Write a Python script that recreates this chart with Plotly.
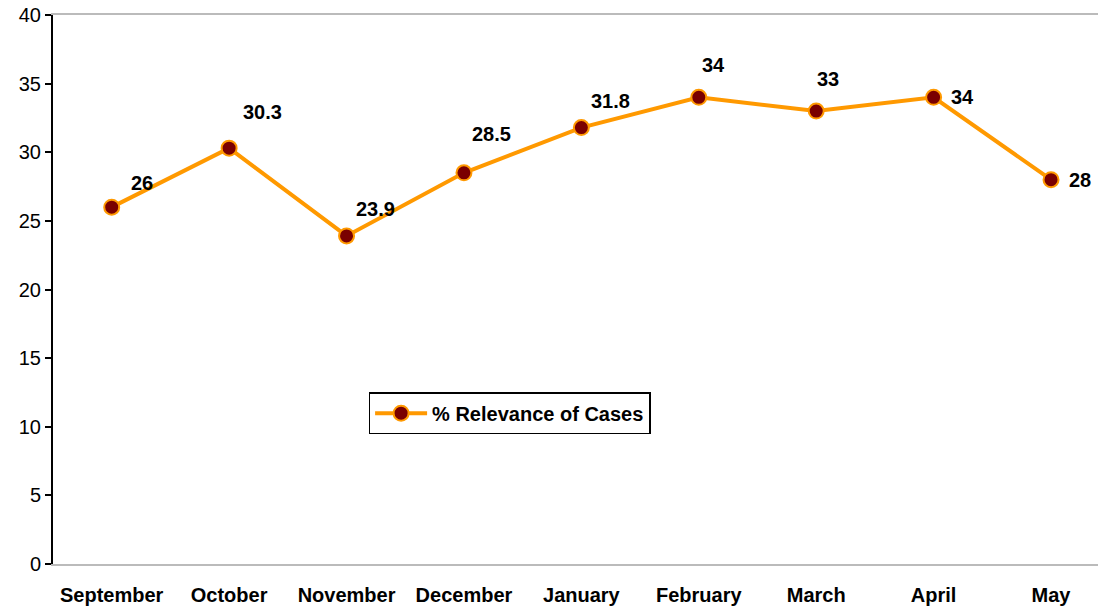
import plotly.graph_objects as go

months = ["September", "October", "November", "December", "January",
          "February", "March", "April", "May"]
values = [26, 30.3, 23.9, 28.5, 31.8, 34, 33, 34, 28]
value_labels = ["26", "30.3", "23.9", "28.5", "31.8", "34", "33", "34", "28"]
series_name = "% Relevance of Cases"
y_ticks = [0, 5, 10, 15, 20, 25, 30, 35, 40]

# label offsets (pixels) relative to each point
label_dx = [30, 33, 29, 28, 29, 15, 12, 29, 29]
label_dy = [24, 36, 27, 39, 27, 32, 32, 0, 0]

FONT = "Liberation Sans, Arial"

fig = go.Figure()
fig.add_trace(go.Scatter(
    x=months, y=values, mode="lines+markers", name="<b>" + series_name + "</b>",
    line=dict(color="#FF9900", width=4),
    marker=dict(size=15, color="#7A0000", line=dict(color="#FF9900", width=2)),
))

for m, v, t, dx, dy in zip(months, values, value_labels, label_dx, label_dy):
    fig.add_annotation(x=m, y=v, text="<b>%s</b>" % t, showarrow=False,
                       xshift=dx, yshift=dy,
                       font=dict(family=FONT, size=20, color="black"))

fig.update_layout(
    width=1098, height=609,
    margin=dict(l=53, r=0, t=15, b=45),
    paper_bgcolor="white", plot_bgcolor="white",
    showlegend=True,
    legend=dict(x=0.302, y=0.313, xanchor="left", yanchor="top",
                bordercolor="black", borderwidth=1.5, bgcolor="white",
                itemwidth=52,
                font=dict(family=FONT, size=20, color="black")),
    font=dict(family=FONT, size=20, color="black"),
)

fig.update_xaxes(
    range=[-0.5, 8.4], showgrid=False, showline=True, linecolor="#BBBBBB",
    linewidth=2, mirror=True, ticks="", ticklabelstandoff=12, automargin=False,
    tickfont=dict(family=FONT, size=20, color="black", weight="bold"),
    zeroline=False,
)
fig.update_yaxes(
    range=[0, 40], tickvals=y_ticks, showgrid=False, showline=True,
    linecolor="black", linewidth=2, ticks="outside", ticklen=6,
    tickcolor="black", tickwidth=2, zeroline=False, automargin=False,
    tickfont=dict(family=FONT, size=20, color="black"),
)

fig.write_html("out.html", config={"displayModeBar": False},
               post_script="document.body.style.margin='0';document.body.style.overflow='hidden';")
